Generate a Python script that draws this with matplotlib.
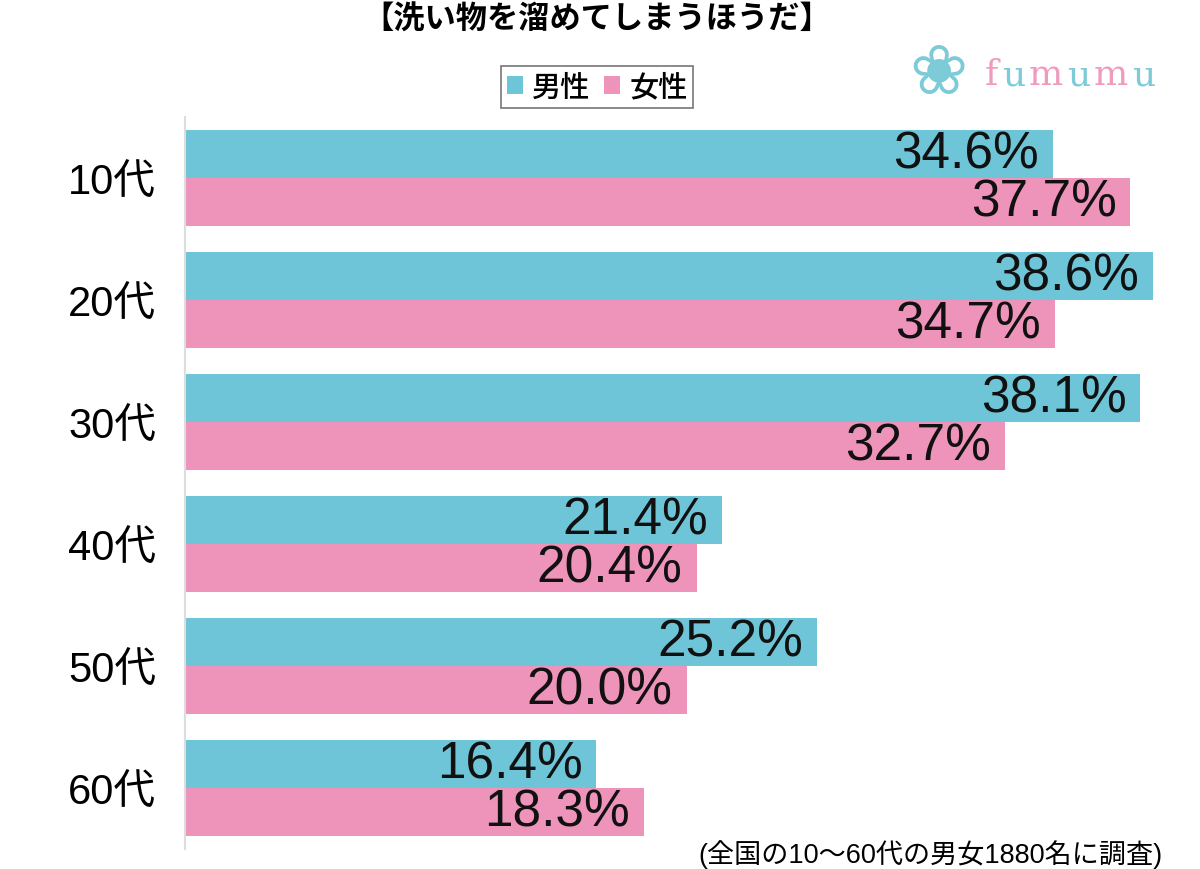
import matplotlib.pyplot as plt
import numpy as np

plt.rcParams['font.family'] = ['Liberation Sans', 'Noto Sans CJK JP', 'DejaVu Sans']

ages = ['10代', '20代', '30代', '40代', '50代', '60代']
male = [34.6, 38.6, 38.1, 21.4, 25.2, 16.4]
female = [37.7, 34.7, 32.7, 20.4, 20.0, 18.3]

c_male = '#6fc5d8'
c_female = '#ee93b9'

fig = plt.figure(figsize=(12, 8.7), dpi=100)
ax = fig.add_axes([185 / 1200, 1 - 850 / 870, 1003 / 1200, 732 / 870])

y = np.arange(len(ages))
h = 0.393
ax.barh(y - h / 2, male, height=h, color=c_male, label='男性')
ax.barh(y + h / 2, female, height=h, color=c_female, label='女性')

for i in range(len(ages)):
    ax.text(male[i] - 0.55, y[i] - h / 2, f'{male[i]:.1f}%', ha='right', va='center',
            fontsize=37, color='#111111')
    ax.text(female[i] - 0.55, y[i] + h / 2, f'{female[i]:.1f}%', ha='right', va='center',
            fontsize=37, color='#111111')

ax.set_xlim(0, 40)
ax.set_ylim(5.5, -0.5)
ax.set_yticks(y)
ax.set_yticklabels(ages, fontsize=30)
ax.set_xticks([])
ax.tick_params(axis='y', length=0, pad=21)
for s in ['top', 'right', 'bottom']:
    ax.spines[s].set_visible(False)
ax.spines['left'].set_color('#dddddd')
ax.spines['left'].set_linewidth(1.5)

fig.text(597 / 1200, 1 - 20 / 870, '【洗い物を溜めてしまうほうだ】', ha='center', va='center',
         fontsize=22.5, fontweight='bold', family=['Noto Sans CJK JP'])

leg = fig.legend(loc='center', bbox_to_anchor=(597 / 1200, 1 - 88 / 870), ncol=2,
                 prop={'family': ['Noto Sans CJK JP'], 'size': 21, 'weight': 'medium'},
                 frameon=True, fancybox=False, edgecolor='#555555',
                 handlelength=0.55, handleheight=0.55, handletextpad=0.3,
                 columnspacing=0.5, borderpad=0.2, borderaxespad=0)
leg.get_frame().set_linewidth(1.2)

fig.text(1163 / 1200, 1 - 855 / 870, '(全国の10～60代の男女1880名に調査)', ha='right',
         va='center', fontsize=19.5)

# logo
fig.text(938 / 1200, 1 - 74 / 870, '❀', ha='center', va='center', fontsize=50,
         color='#7ccbd6', family='DejaVu Sans')
logo = 'fumumu'
logo_cols = ['#ef9bbd', '#7ccbd6', '#ef9bbd', '#7ccbd6', '#ef9bbd', '#7ccbd6']
x0 = 985
for ch, col in zip(logo, logo_cols):
    fig.text(x0 / 1200, 1 - 75 / 870, ch, ha='left', va='center', fontsize=26,
             color=col, family='DejaVu Serif')
    x0 += 17 if ch == 'f' else (38 if ch == 'm' else 27)

fig.savefig('out.png', dpi=100)
